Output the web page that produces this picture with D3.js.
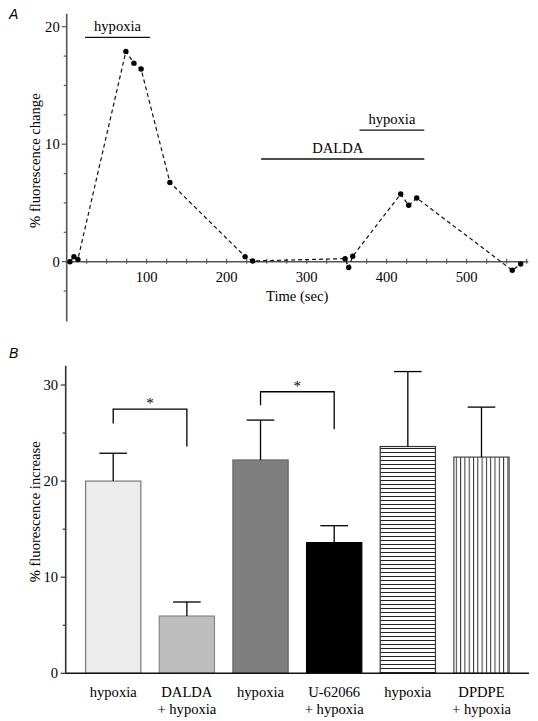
<!DOCTYPE html>
<html><head><meta charset="utf-8">
<script src="https://cdn.jsdelivr.net/npm/d3@7"></script>
<style>body{margin:0;background:#fff}svg{display:block}text{fill:#000}</style>
</head><body>
<script>
// ---- Panel A data ----
const timeSec = [4, 9, 14, 74, 84, 93, 129, 223, 232.5, 348, 352.5, 357.5, 417.5, 427.5, 437.5, 557, 567.5];
const fluorChange = [0, 0.43, 0.2, 17.9, 16.9, 16.4, 6.75, 0.43, 0.06, 0.26, -0.5, 0.46, 5.76, 4.8, 5.42, -0.73, -0.2];
const periodLabels = ["hypoxia", "DALDA", "hypoxia"];
const periodStart = [23, 243, 366];
const periodEnd = [104, 447, 447];
const periodLevel = [19.1, 8.74, 11.2];
const xTicksA = [100, 200, 300, 400, 500];
const yTicksA = [0, 10, 20];

// ---- Panel B data ----
const barCats = ["hypoxia|", "DALDA|+ hypoxia", "hypoxia||", "U-62066|+ hypoxia", "hypoxia|||", "DPDPE|+ hypoxia"];
const barValues = [20.0, 5.96, 22.2, 13.6, 23.6, 22.5];
const barErrors = [2.9, 1.46, 4.15, 1.76, 7.8, 5.2];
const yTicksB = [0, 10, 20, 30];
const sigPairs = [[0, 1], [2, 3]];
const sigTop = [27.5, 29.3];
const sigFootL = [26.0, 27.9];
const sigFootR = [23.6, 25.4];

const W = 538, H = 721;
const FS = 14.6;
const svg = d3.select("body").append("svg").attr("width", W).attr("height", H);
const serif = "'Liberation Serif', 'Times New Roman', serif";
const sans = "'Liberation Sans', Arial, sans-serif";

const defs = svg.append("defs");
const ph = defs.append("pattern").attr("id", "hstripe").attr("patternUnits", "userSpaceOnUse")
  .attr("width", 8).attr("height", 4);
ph.append("rect").attr("width", 8).attr("height", 4).attr("fill", "#fff");
ph.append("line").attr("x1", 0).attr("x2", 8).attr("y1", 0.5).attr("y2", 0.5).attr("stroke", "#222").attr("stroke-width", 1);
const pv = defs.append("pattern").attr("id", "vstripe").attr("patternUnits", "userSpaceOnUse")
  .attr("width", 4.3).attr("height", 8);
pv.append("rect").attr("width", 4.3).attr("height", 8).attr("fill", "#fff");
pv.append("line").attr("y1", 0).attr("y2", 8).attr("x1", 0.5).attr("x2", 0.5).attr("stroke", "#333").attr("stroke-width", 1);

// ================= Panel A =================
const gA = svg.append("g");
const xA = d3.scaleLinear().domain([0, 577]).range([66.7, 528.3]);
const yA = d3.scaleLinear().domain([-5.1, 21.1]).range([321.6, 13.8]);
const axisColA = "#555";

gA.append("line").attr("x1", xA(0)).attr("x2", xA(0)).attr("y1", yA(21.1)).attr("y2", yA(-5.1))
  .attr("stroke", axisColA).attr("stroke-width", 1.6);
d3.range(-2.5, 20.01, 2.5).forEach(v => {
  const major = yTicksA.includes(v);
  gA.append("line").attr("x1", xA(0) - (major ? 5 : 3)).attr("x2", xA(0)).attr("y1", yA(v)).attr("y2", yA(v))
    .attr("stroke", axisColA).attr("stroke-width", 1.2);
});
gA.selectAll(".ytl").data(yTicksA).enter().append("text")
  .attr("x", xA(0) - 7).attr("y", d => yA(d) + 5).attr("text-anchor", "end")
  .attr("font-family", serif).attr("font-size", FS).text(d => d);

gA.append("line").attr("x1", xA(0)).attr("x2", xA(577)).attr("y1", yA(0)).attr("y2", yA(0))
  .attr("stroke", axisColA).attr("stroke-width", 1.6);
d3.range(25, 576, 25).forEach(t => {
  gA.append("line").attr("x1", xA(t)).attr("x2", xA(t)).attr("y1", yA(0) - 3).attr("y2", yA(0) + 2)
    .attr("stroke", axisColA).attr("stroke-width", 1.1);
});
gA.selectAll(".xtl").data(xTicksA).enter().append("text")
  .attr("x", d => xA(d)).attr("y", yA(0) + 20).attr("text-anchor", "middle")
  .attr("font-family", serif).attr("font-size", FS).text(d => d);
gA.append("text").attr("x", 266).attr("y", 301).attr("font-family", serif).attr("font-size", FS).text("Time (sec)");
gA.append("text").attr("transform", `translate(40,${yA(8.6)}) rotate(-90)`).attr("text-anchor", "middle")
  .attr("font-family", serif).attr("font-size", FS).text("% fluorescence change");

periodLabels.forEach((lab, i) => {
  gA.append("line").attr("x1", xA(periodStart[i])).attr("x2", xA(periodEnd[i]))
    .attr("y1", yA(periodLevel[i])).attr("y2", yA(periodLevel[i])).attr("stroke", "#111").attr("stroke-width", 1.3);
  gA.append("text").attr("x", (xA(periodStart[i]) + xA(periodEnd[i])) / 2 + (i === 1 ? -5 : 0))
    .attr("y", yA(periodLevel[i]) - 6).attr("text-anchor", "middle")
    .attr("font-family", serif).attr("font-size", FS).text(lab);
});

const pts = timeSec.map((t, i) => [t, fluorChange[i]]);
gA.append("path").datum(pts)
  .attr("d", d3.line().x(d => xA(d[0])).y(d => yA(d[1])))
  .attr("fill", "none").attr("stroke", "#111").attr("stroke-width", 1.2).attr("stroke-dasharray", "4,3");
gA.selectAll(".pt").data(pts).enter().append("circle")
  .attr("cx", d => xA(d[0])).attr("cy", d => yA(d[1])).attr("r", 2.7).attr("fill", "#000");

gA.append("text").attr("x", 9).attr("y", 19).attr("font-family", sans).attr("font-style", "italic")
  .attr("font-size", 14).text("A");

// ================= Panel B =================
const gB = svg.append("g");
const xB = d3.scaleBand().domain(barCats).range([65.7, 529]).paddingInner(0.25).paddingOuter(0.27);
const yB = d3.scaleLinear().domain([0, 32]).range([673.3, 365.8]);
const fills = ["#ececec", "#bdbdbd", "#7f7f7f", "#000", "url(#hstripe)", "url(#vstripe)"];
const strokes = ["#777", "#888", "#666", "#000", "#333", "#444"];

gB.selectAll(".bar").data(barCats).enter().append("rect")
  .attr("x", d => xB(d)).attr("y", (d, i) => yB(barValues[i]))
  .attr("width", xB.bandwidth()).attr("height", (d, i) => yB(0) - yB(barValues[i]))
  .attr("fill", (d, i) => fills[i]).attr("stroke", (d, i) => strokes[i]).attr("stroke-width", 1.2);

barCats.forEach((c, i) => {
  const cx = xB(c) + xB.bandwidth() / 2;
  const top = yB(barValues[i] + barErrors[i]);
  gB.append("line").attr("x1", cx).attr("x2", cx).attr("y1", yB(barValues[i])).attr("y2", top)
    .attr("stroke", "#000").attr("stroke-width", 1.3);
  gB.append("line").attr("x1", cx - xB.bandwidth() / 4).attr("x2", cx + xB.bandwidth() / 4)
    .attr("y1", top).attr("y2", top).attr("stroke", "#000").attr("stroke-width", 1.3);
});

gB.append("line").attr("x1", 65.7).attr("x2", 65.7).attr("y1", yB(32)).attr("y2", yB(0))
  .attr("stroke", "#333").attr("stroke-width", 1.6);
gB.append("line").attr("x1", 65.7).attr("x2", 529).attr("y1", yB(0)).attr("y2", yB(0))
  .attr("stroke", "#111").attr("stroke-width", 1.6);
d3.range(0, 30.01, 5).forEach(v => {
  const major = yTicksB.includes(v);
  gB.append("line").attr("x1", 65.7 - (major ? 5 : 3)).attr("x2", 65.7).attr("y1", yB(v)).attr("y2", yB(v))
    .attr("stroke", "#333").attr("stroke-width", 1.2);
});
gB.selectAll(".ytlB").data(yTicksB).enter().append("text")
  .attr("x", 58).attr("y", d => yB(d) + 5).attr("text-anchor", "end")
  .attr("font-family", serif).attr("font-size", FS).text(d => d);
gB.append("text").attr("transform", `translate(40,${yB(16.8)}) rotate(-90)`).attr("text-anchor", "middle")
  .attr("font-family", serif).attr("font-size", FS).text("% fluorescence increase");

barCats.forEach(c => {
  const lines = c.split("|").filter(s => s.length);
  const cx = xB(c) + xB.bandwidth() / 2;
  lines.forEach((s, k) => {
    gB.append("text").attr("x", cx).attr("y", 697 + k * 17).attr("text-anchor", "middle")
      .attr("font-family", serif).attr("font-size", FS).text(s);
  });
});

sigPairs.forEach((p, i) => {
  const x1 = xB(barCats[p[0]]) + xB.bandwidth() / 2;
  const x2 = xB(barCats[p[1]]) + xB.bandwidth() / 2;
  gB.append("path")
    .attr("d", `M${x1},${yB(sigFootL[i])}V${yB(sigTop[i])}H${x2}V${yB(sigFootR[i])}`)
    .attr("fill", "none").attr("stroke", "#000").attr("stroke-width", 1.3);
  gB.append("text").attr("x", (x1 + x2) / 2).attr("y", yB(sigTop[i]) - 1).attr("text-anchor", "middle")
    .attr("font-family", serif).attr("font-size", 15).attr("fill", "#000").text("*");
});

gB.append("text").attr("x", 9).attr("y", 358).attr("font-family", sans).attr("font-style", "italic")
  .attr("font-size", 14).text("B");
</script>
</body></html>
